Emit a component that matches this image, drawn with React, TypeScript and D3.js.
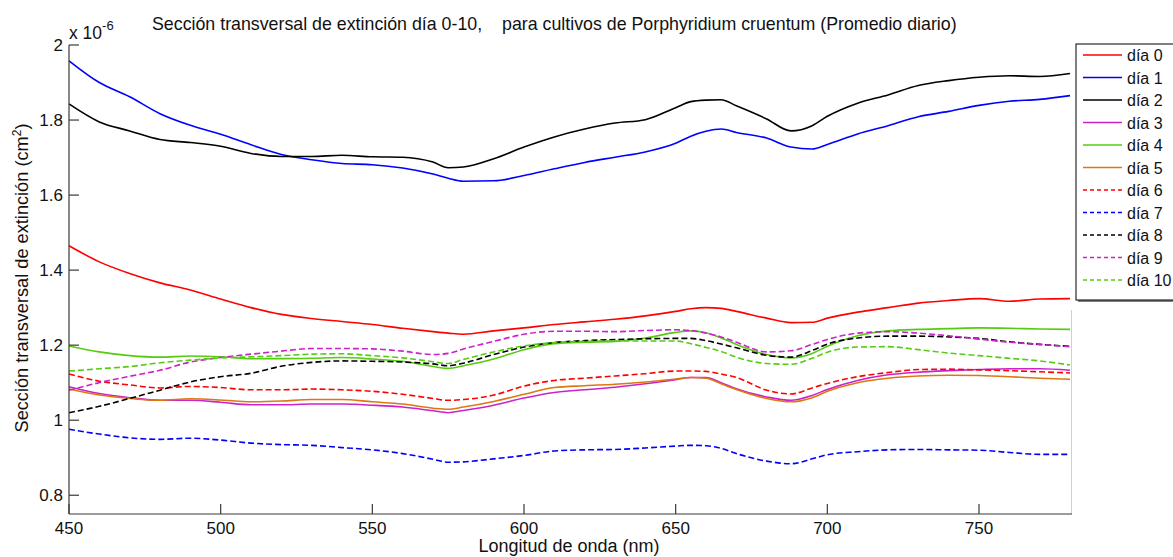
import React from "react";
import * as d3 from "d3";

// Wavelength grid (nm) shared by every series
const WAVELENGTHS = [450, 460, 470, 480, 490, 500, 510, 520, 530, 540, 550, 560, 570, 575, 580, 590, 600, 610, 620, 630, 640, 650, 655, 660, 665, 670, 680, 688, 695, 700, 710, 720, 730, 740, 750, 760, 770, 780];

// Daily-averaged extinction cross section, in units of 1e-6 cm^2
const DIA_0 = [1.465, 1.422, 1.391, 1.366, 1.347, 1.323, 1.300, 1.282, 1.271, 1.263, 1.255, 1.245, 1.236, 1.232, 1.229, 1.238, 1.246, 1.255, 1.262, 1.269, 1.278, 1.290, 1.297, 1.300, 1.298, 1.290, 1.272, 1.260, 1.261, 1.272, 1.288, 1.300, 1.312, 1.319, 1.324, 1.317, 1.323, 1.324];
const DIA_1 = [1.958, 1.900, 1.862, 1.817, 1.786, 1.762, 1.734, 1.708, 1.694, 1.684, 1.681, 1.672, 1.656, 1.645, 1.637, 1.638, 1.652, 1.670, 1.687, 1.701, 1.715, 1.738, 1.757, 1.770, 1.776, 1.767, 1.752, 1.728, 1.723, 1.735, 1.763, 1.785, 1.809, 1.823, 1.839, 1.850, 1.855, 1.865];
const DIA_2 = [1.843, 1.795, 1.771, 1.748, 1.740, 1.730, 1.711, 1.703, 1.703, 1.706, 1.702, 1.701, 1.688, 1.673, 1.675, 1.697, 1.728, 1.755, 1.776, 1.792, 1.801, 1.833, 1.849, 1.853, 1.854, 1.838, 1.803, 1.771, 1.785, 1.810, 1.845, 1.867, 1.892, 1.905, 1.914, 1.918, 1.916, 1.924];
const DIA_3 = [1.089, 1.071, 1.060, 1.053, 1.053, 1.048, 1.041, 1.041, 1.043, 1.043, 1.040, 1.035, 1.025, 1.020, 1.026, 1.040, 1.059, 1.074, 1.081, 1.088, 1.097, 1.108, 1.114, 1.114, 1.100, 1.084, 1.062, 1.053, 1.066, 1.082, 1.106, 1.121, 1.128, 1.132, 1.135, 1.137, 1.137, 1.133];
const DIA_4 = [1.198, 1.182, 1.172, 1.168, 1.171, 1.169, 1.164, 1.164, 1.165, 1.167, 1.163, 1.157, 1.143, 1.138, 1.145, 1.163, 1.188, 1.204, 1.208, 1.210, 1.219, 1.234, 1.238, 1.233, 1.219, 1.202, 1.175, 1.166, 1.178, 1.197, 1.225, 1.238, 1.242, 1.244, 1.246, 1.245, 1.243, 1.242];
const DIA_5 = [1.083, 1.067, 1.058, 1.053, 1.057, 1.054, 1.049, 1.051, 1.055, 1.055, 1.049, 1.043, 1.032, 1.029, 1.035, 1.050, 1.069, 1.087, 1.092, 1.096, 1.102, 1.110, 1.114, 1.112, 1.097, 1.082, 1.058, 1.049, 1.060, 1.077, 1.100, 1.112, 1.118, 1.120, 1.119, 1.116, 1.112, 1.109];
const DIA_6 = [1.123, 1.104, 1.094, 1.086, 1.090, 1.087, 1.081, 1.081, 1.083, 1.081, 1.077, 1.069, 1.058, 1.053, 1.055, 1.067, 1.091, 1.106, 1.112, 1.118, 1.124, 1.131, 1.131, 1.130, 1.123, 1.114, 1.080, 1.070, 1.086, 1.098, 1.116, 1.127, 1.135, 1.136, 1.134, 1.132, 1.129, 1.126];
const DIA_7 = [0.976, 0.963, 0.953, 0.949, 0.952, 0.947, 0.939, 0.935, 0.933, 0.927, 0.921, 0.911, 0.896, 0.888, 0.889, 0.897, 0.906, 0.918, 0.921, 0.922, 0.926, 0.931, 0.933, 0.932, 0.925, 0.911, 0.891, 0.884, 0.897, 0.908, 0.916, 0.921, 0.922, 0.921, 0.920, 0.914, 0.909, 0.909];
const DIA_8 = [1.020, 1.037, 1.058, 1.080, 1.102, 1.116, 1.125, 1.144, 1.154, 1.158, 1.157, 1.155, 1.150, 1.145, 1.152, 1.175, 1.195, 1.207, 1.212, 1.215, 1.217, 1.218, 1.218, 1.212, 1.203, 1.193, 1.173, 1.168, 1.186, 1.203, 1.219, 1.224, 1.224, 1.222, 1.218, 1.209, 1.202, 1.197];
const DIA_9 = [1.080, 1.100, 1.117, 1.133, 1.155, 1.167, 1.176, 1.184, 1.191, 1.191, 1.190, 1.184, 1.175, 1.178, 1.190, 1.210, 1.229, 1.237, 1.237, 1.236, 1.239, 1.241, 1.239, 1.232, 1.222, 1.208, 1.182, 1.185, 1.202, 1.215, 1.232, 1.236, 1.232, 1.225, 1.216, 1.208, 1.202, 1.196];
const DIA_10 = [1.131, 1.137, 1.143, 1.153, 1.160, 1.166, 1.169, 1.172, 1.176, 1.177, 1.172, 1.166, 1.156, 1.151, 1.162, 1.182, 1.198, 1.207, 1.210, 1.211, 1.211, 1.211, 1.204, 1.194, 1.183, 1.168, 1.151, 1.149, 1.165, 1.181, 1.195, 1.196, 1.188, 1.179, 1.172, 1.165, 1.158, 1.147];

const SERIES_LABELS = ["día 0", "día 1", "día 2", "día 3", "día 4", "día 5", "día 6", "día 7", "día 8", "día 9", "día 10"];
const SERIES_VALUES = [DIA_0, DIA_1, DIA_2, DIA_3, DIA_4, DIA_5, DIA_6, DIA_7, DIA_8, DIA_9, DIA_10];
const SERIES_COLORS = ["#ff0000", "#0000ff", "#000000", "#cc22cc", "#55cc11", "#dd7711", "#ff0000", "#0000ff", "#000000", "#cc22cc", "#55cc11"];
const SERIES_DASHED = [false, false, false, false, false, false, true, true, true, true, true];

const X_TICKS = [450, 500, 550, 600, 650, 700, 750];
const Y_TICKS = [0.8, 1, 1.2, 1.4, 1.6, 1.8, 2];

const W = 1173;
const H = 557;
const FONT = "'Liberation Sans', Arial, Helvetica, sans-serif";

export default function App() {
  const left = 69;
  const right = 1070;
  const top = 45;
  const bottom = 514;

  const x = d3.scaleLinear().domain([450, 780]).range([left, right]);
  const y = d3.scaleLinear().domain([0.75, 2]).range([bottom, top]);

  const line = d3
    .line<number>()
    .x((_, i) => x(WAVELENGTHS[i]))
    .y((v) => y(v))
    .curve(d3.curveMonotoneX);

  const axisColor = "#3a3a3a";
  const tickLen = 10;

  const legX = 1076;
  const legY = 44;
  const legW = 110;
  const legH = 256;
  const rowY0 = 55;
  const rowStep = 22.5;

  return (
    <div style={{ position: "fixed", left: 0, top: 0, width: W, height: H, background: "#fff" }}>
      <svg width={W} height={H} style={{ display: "block" }} fontFamily={FONT}>
        <rect x={0} y={0} width={W} height={H} fill="#fff" />

        {/* title */}
        <text x={152} y={30} fontSize={17.8} fill="#111">
          Sección transversal de extinción día 0-10,
        </text>
        <text x={502} y={30} fontSize={17.8} fill="#111">
          para cultivos de Porphyridium cruentum (Promedio diario)
        </text>

        {/* exponent marker */}
        <text x={69} y={39} fontSize={17.5} fill="#111">
          x 10
          <tspan dy={-9} fontSize={13}>-6</tspan>
        </text>

        {/* series */}
        <g>
          {SERIES_VALUES.map((vals, i) => (
            <path
              key={SERIES_LABELS[i]}
              d={line(vals) || ""}
              fill="none"
              stroke={SERIES_COLORS[i]}
              strokeWidth={1.6}
              strokeDasharray={SERIES_DASHED[i] ? "6,3" : undefined}
              strokeLinejoin="round"
            />
          ))}
        </g>

        {/* right-hand edge remnant */}
        <line x1={right + 1.5} x2={right + 1.5} y1={310} y2={bottom} stroke="#d0d0d0" strokeWidth={1} />

        {/* axes */}
        <line x1={left} x2={left} y1={top} y2={bottom} stroke={axisColor} strokeWidth={1.2} />
        <line x1={left} x2={right + 2} y1={bottom} y2={bottom} stroke={axisColor} strokeWidth={1.2} />

        {Y_TICKS.map((t) => (
          <g key={"y" + t}>
            <line x1={left} x2={left + tickLen} y1={y(t)} y2={y(t)} stroke={axisColor} strokeWidth={1.2} />
            <text x={63} y={y(t) + 6} fontSize={17} textAnchor="end" fill="#111">
              {d3.format("~g")(t)}
            </text>
          </g>
        ))}

        {X_TICKS.map((t) => (
          <g key={"x" + t}>
            <line x1={x(t)} x2={x(t)} y1={bottom} y2={bottom - tickLen} stroke={axisColor} strokeWidth={1.2} />
            <text x={x(t)} y={534} fontSize={17} textAnchor="middle" fill="#111">
              {t}
            </text>
          </g>
        ))}

        {/* axis labels */}
        <text x={569} y={552} fontSize={18} textAnchor="middle" fill="#111">
          Longitud de onda (nm)
        </text>
        <text transform="translate(28,278) rotate(-90)" fontSize={18.2} textAnchor="middle" fill="#111">
          Sección transversal de extinción (cm
          <tspan dy={-7} fontSize={12}>2</tspan>
          <tspan dy={7}>)</tspan>
        </text>

        {/* legend */}
        <rect x={legX + 2} y={legY + 2} width={legW} height={legH} fill="#808080" />
        <rect x={legX} y={legY} width={legW} height={legH} fill="#fff" stroke="#000" strokeWidth={1} />
        {SERIES_LABELS.map((lab, i) => {
          const ry = rowY0 + i * rowStep;
          return (
            <g key={"leg" + lab}>
              <line
                x1={1083}
                x2={1122}
                y1={ry}
                y2={ry}
                stroke={SERIES_COLORS[i]}
                strokeWidth={1.6}
                strokeDasharray={SERIES_DASHED[i] ? "4,3" : undefined}
              />
              <text x={1127} y={ry + 6} fontSize={16} fill="#111">
                {lab}
              </text>
            </g>
          );
        })}
      </svg>
    </div>
  );
}
